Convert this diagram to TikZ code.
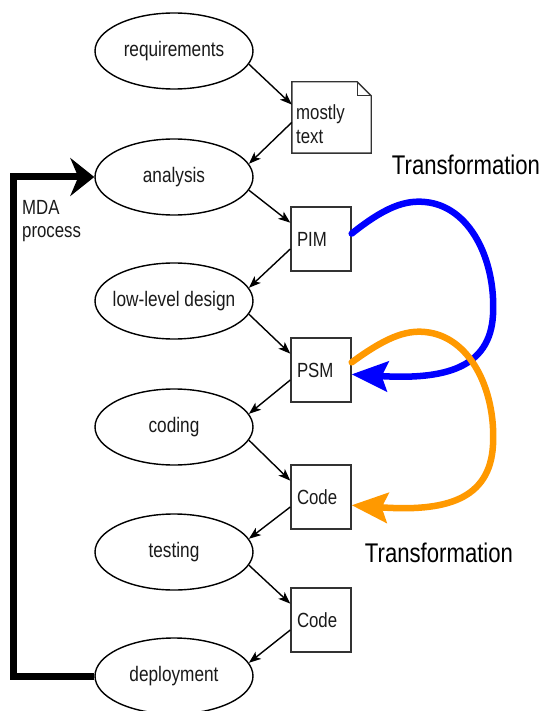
\documentclass[tikz,border=0pt]{standalone}
\usepackage{fontspec}
\setmainfont{Liberation Sans}[FakeStretch=0.82]
\usetikzlibrary{shapes.geometric,arrows.meta}
\definecolor{transblue}{HTML}{0000FF}
\definecolor{transorange}{HTML}{FF9900}
\definecolor{txt}{HTML}{1A1A1A}
\begin{document}
\begin{tikzpicture}[x=1pt,y=-1pt,
  ell/.style={ellipse, draw, line width=1.4pt, minimum width=158pt, minimum height=76pt, inner sep=0pt, text=txt, font=\fontsize{21}{24}\selectfont},
  box/.style={rectangle, draw=black!80, line width=1.4pt, minimum width=60pt, minimum height=64pt, text width=48pt, inner xsep=6pt, align=left, text=txt, font=\fontsize{20.5}{24}\selectfont},
  flow/.style={-{Stealth[length=12pt,width=9pt,inset=3pt]}, line width=1.4pt},
  trans/.style={line width=6.5pt, line cap=round},
  lab/.style={inner sep=0pt, text=black, font=\fontsize{27}{30}\selectfont}]
\useasboundingbox[fill=white] (0,0) rectangle (544,711);

% process ellipses
\node[ell] (req) at (174,51) {requirements};
\node[ell] (analysis) at (174,177) {analysis};
\node[ell] (lld) at (174,301) {\makebox[0pt]{low-level design}};
\node[ell] (coding) at (174,427) {coding};
\node[ell] (testing) at (174,552) {testing};
\node[ell] (deploy) at (174,676) {deployment};

% artefact boxes
\node[minimum width=79pt, minimum height=71pt, inner sep=0pt] (doc) at (331.5,117.5) {};
\node[anchor=north west, align=left, inner sep=0pt, text=txt, font=\fontsize{20.5}{24}\selectfont] (doctext) at (296,104) {mostly\\text};
\draw[line width=1.4pt, draw=black!80, line join=miter]
  (doc.north west) -- ([xshift=-14pt]doc.north east) -- ([yshift=-14pt]doc.north east)
  -- (doc.south east) -- (doc.south west) -- cycle;
\draw[line width=1.2pt, draw=black!80] ([xshift=-14pt]doc.north east) |- ([yshift=-14pt]doc.north east);

\node[box] (pim) at (321,239) {PIM};
\node[box] (psm) at (321,370) {PSM};
\node[box] (code1) at (321,497) {Code};
\node[box] (code2) at (321,620) {Code};

% flow arrows
\draw[flow] (req.-10) -- (doc.162);
\draw[flow] (doc.-173) -- (analysis.10);
\draw[flow] (analysis.-10) -- (pim.152);
\draw[flow] (pim.-162) -- (lld.10);
\draw[flow] (lld.-10) -- (psm.152);
\draw[flow] (psm.-162) -- (coding.10);
\draw[flow] (coding.-10) -- (code1.152);
\draw[flow] (code1.-162) -- (testing.10);
\draw[flow] (testing.-10) -- (code2.152);
\draw[flow] (code2.-162) -- (deploy.10);

% MDA process loop
\coordinate (mdaleft) at (13,420);
\draw[line width=7pt, line join=miter, -{Stealth[length=24pt,width=38pt,inset=8pt]}]
  (deploy.west) -| (mdaleft) |- (analysis.west);
\node[anchor=north west, align=left, inner sep=0pt, text=txt, font=\fontsize{20.5}{23}\selectfont] (mda) at (22,200) {MDA\\process};

% transformations
\draw[trans, draw=transblue, -{Stealth[length=36pt,width=30pt,inset=6pt]}]
  (pim.10) .. controls (385,207) and (405,200) .. (425,202)
  .. controls (470,206) and (496,260) .. (493,315)
  .. controls (490,368) and (445,380) .. (psm.-8);
\draw[trans, draw=transorange, -{Stealth[length=36pt,width=30pt,inset=6pt]}]
  (psm.14) .. controls (385,338) and (405,330) .. (425,332)
  .. controls (470,336) and (496,390) .. (493,445)
  .. controls (490,500) and (445,512) .. (code1.-15);
\node[lab] (tr1) at (466,165) {Transformation};
\node[lab] (tr2) at (439,553) {Transformation};
\end{tikzpicture}
\end{document}
